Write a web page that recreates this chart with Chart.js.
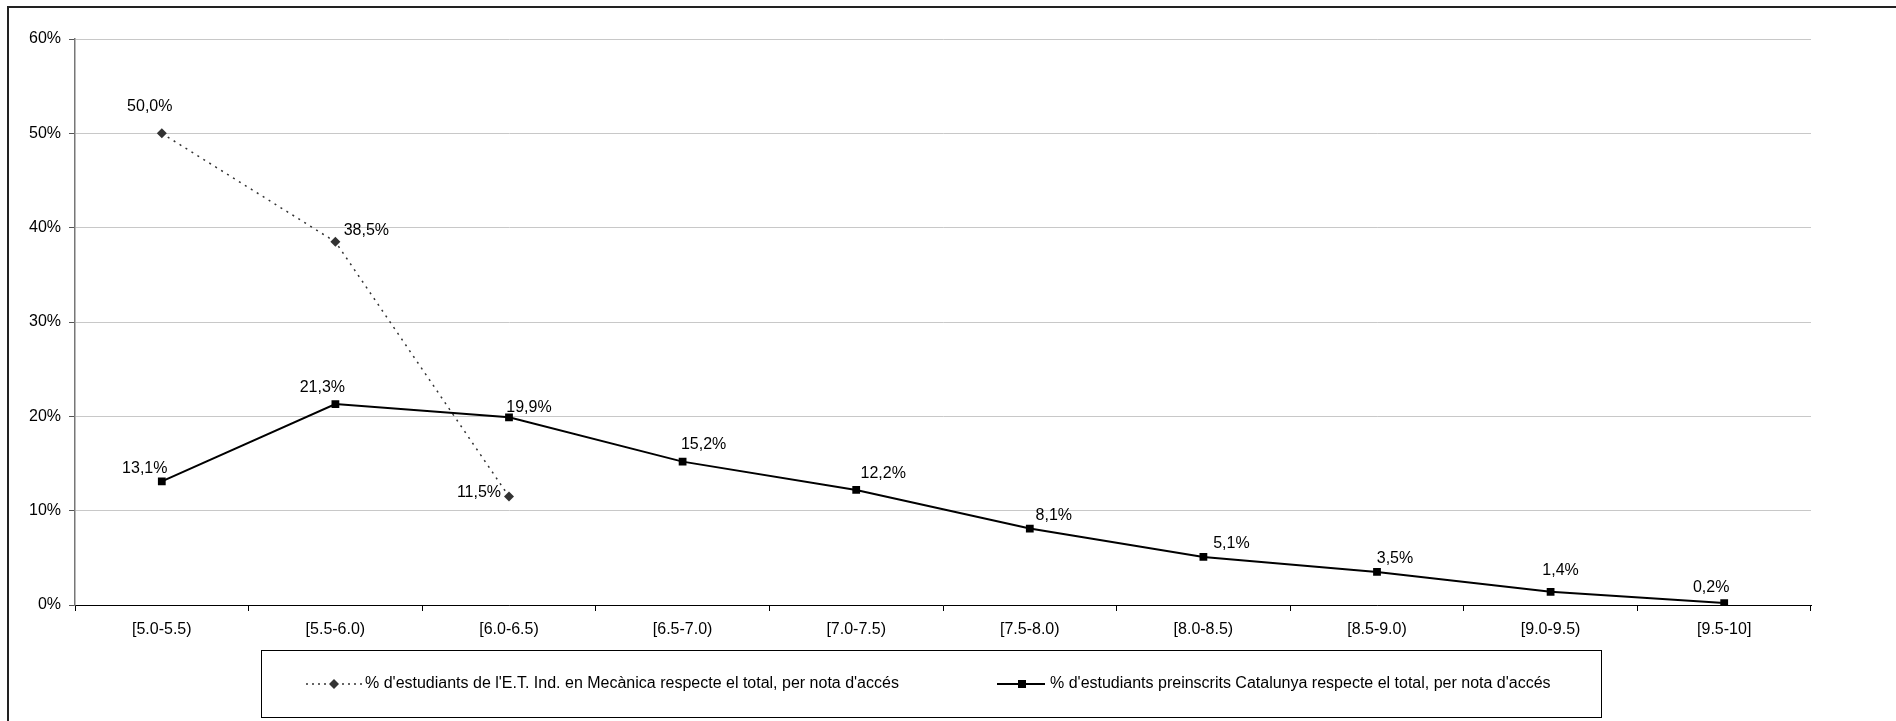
<!DOCTYPE html>
<html>
<head>
<meta charset="utf-8">
<script src="https://cdn.jsdelivr.net/npm/chart.js@4/dist/chart.umd.min.js"></script>
<style>
html,body{margin:0;padding:0;background:#fff;}
#wrap{position:relative;width:1896px;height:721px;}
</style>
</head>
<body>
<div id="wrap"><canvas id="c" width="1896" height="721"></canvas></div>
<script>
const categories = ["[5.0-5.5)","[5.5-6.0)","[6.0-6.5)","[6.5-7.0)","[7.0-7.5)","[7.5-8.0)","[8.0-8.5)","[8.5-9.0)","[9.0-9.5)","[9.5-10]"];
const mecanicaValues = [50.0, 38.5, 11.5, null, null, null, null, null, null, null];
const catalunyaValues = [13.1, 21.3, 19.9, 15.2, 12.2, 8.1, 5.1, 3.5, 1.4, 0.2];
const yTicks = [0, 10, 20, 30, 40, 50, 60];
const seriesNames = [
  "% d'estudiants de l'E.T. Ind. en Mecànica respecte el total, per nota d'accés",
  "% d'estudiants preinscrits Catalunya respecte el total, per nota d'accés"
];

// label placement (style only): offsets of label centre from point
const mecLabelOffsets = [[-12,-27],[31,-11],[-30,-4]];
const catLabelOffsets = [[-17,-13],[-13,-16],[20,-10],[21,-17],[27,-16],[24,-13],[28,-13],[18,-13],[10,-21],[-13,-16]];

const FONT = "'Liberation Sans', Arial, sans-serif";
const FS = 16;

function fmt(v){ return v.toFixed(1).replace('.', ',') + '%'; }

const labelsPlugin = {
  id: 'valueLabels',
  afterDatasetsDraw(chart){
    const ctx = chart.ctx;
    ctx.save();
    ctx.font = FS + "px " + FONT;
    ctx.fillStyle = "#000";
    ctx.textAlign = "center";
    ctx.textBaseline = "middle";
    const offs = [mecLabelOffsets, catLabelOffsets];
    chart.data.datasets.forEach((ds, di) => {
      const meta = chart.getDatasetMeta(di);
      meta.data.forEach((pt, i) => {
        const v = ds.data[i];
        if (v === null || v === undefined) return;
        const o = offs[di][i] || [0,-14];
        ctx.fillText(fmt(v), pt.x + o[0], pt.y + o[1]);
      });
    });
    ctx.restore();
  }
};

const framePlugin = {
  id: 'frame',
  afterDraw(chart){
    const ctx = chart.ctx;
    ctx.save();
    // outer border (top & left)
    ctx.strokeStyle = "#222";
    ctx.lineWidth = 2;
    ctx.beginPath();
    ctx.moveTo(8, 721);
    ctx.lineTo(8, 7);
    ctx.lineTo(1896, 7);
    ctx.stroke();
    // legend box
    const bx = 261.5, by = 650.5, bw = 1340, bh = 67;
    ctx.lineWidth = 1;
    ctx.strokeStyle = "#000";
    ctx.strokeRect(bx, by, bw, bh);
    const cy = 684;
    ctx.font = FS + "px " + FONT;
    ctx.fillStyle = "#000";
    ctx.textAlign = "left";
    ctx.textBaseline = "middle";
    // item 1: dotted line + diamond
    ctx.strokeStyle = "#333";
    ctx.lineWidth = 1.5;
    ctx.setLineDash([2,4]);
    ctx.beginPath(); ctx.moveTo(306, cy); ctx.lineTo(362, cy); ctx.stroke();
    ctx.setLineDash([]);
    ctx.fillStyle = "#333";
    ctx.beginPath();
    ctx.moveTo(334, cy-5); ctx.lineTo(339, cy); ctx.lineTo(334, cy+5); ctx.lineTo(329, cy); ctx.closePath(); ctx.fill();
    ctx.fillStyle = "#000";
    ctx.fillText(seriesNames[0], 365, cy);
    // item 2: solid line + square
    ctx.strokeStyle = "#000";
    ctx.lineWidth = 2;
    ctx.beginPath(); ctx.moveTo(997, cy); ctx.lineTo(1045, cy); ctx.stroke();
    ctx.fillRect(1018, cy-4, 8, 8);
    ctx.fillText(seriesNames[1], 1050, cy);
    ctx.restore();
  }
};

new Chart(document.getElementById('c'), {
  type: 'line',
  data: {
    labels: categories,
    datasets: [
      {
        label: seriesNames[0],
        data: mecanicaValues,
        borderColor: '#333',
        backgroundColor: '#333',
        borderWidth: 1.5,
        borderDash: [2,5],
        pointStyle: 'rectRot',
        pointRadius: 5,
        pointHoverRadius: 5,
        pointBorderWidth: 0,
        tension: 0,
        spanGaps: false
      },
      {
        label: seriesNames[1],
        data: catalunyaValues,
        borderColor: '#000',
        backgroundColor: '#000',
        borderWidth: 2,
        pointStyle: 'rect',
        pointRadius: 5.5,
        pointHoverRadius: 5.5,
        pointBorderWidth: 0,
        tension: 0
      }
    ]
  },
  options: {
    responsive: false,
    animation: false,
    devicePixelRatio: 1,
    layout: { padding: { left: 0, top: 39, right: 85, bottom: 0 } },
    plugins: { legend: { display: false }, tooltip: { enabled: false } },
    scales: {
      x: {
        type: 'category',
        offset: true,
        grid: { display: true, drawOnChartArea: false, drawTicks: true, tickLength: 6, tickColor: '#000', offset: true },
        border: { display: true, color: '#000', width: 1 },
        ticks: { color: '#000', font: { family: FONT, size: FS }, padding: 9, maxRotation: 0, autoSkip: false },
        afterFit(s){ s.height = 116; }
      },
      y: {
        min: 0, max: 60,
        afterBuildTicks(s){ s.ticks = yTicks.map(v => ({ value: v })); },
        grid: { color: '#c8c8c8', lineWidth: 1, drawTicks: true, tickLength: 6, tickColor: '#555' },
        border: { display: true, color: '#777', width: 1.5 },
        ticks: { color: '#000', font: { family: FONT, size: FS }, padding: 8, callback: v => v + '%' },
        afterFit(s){ s.width = 75; }
      }
    }
  },
  plugins: [labelsPlugin, framePlugin]
});
</script>
</body>
</html>
